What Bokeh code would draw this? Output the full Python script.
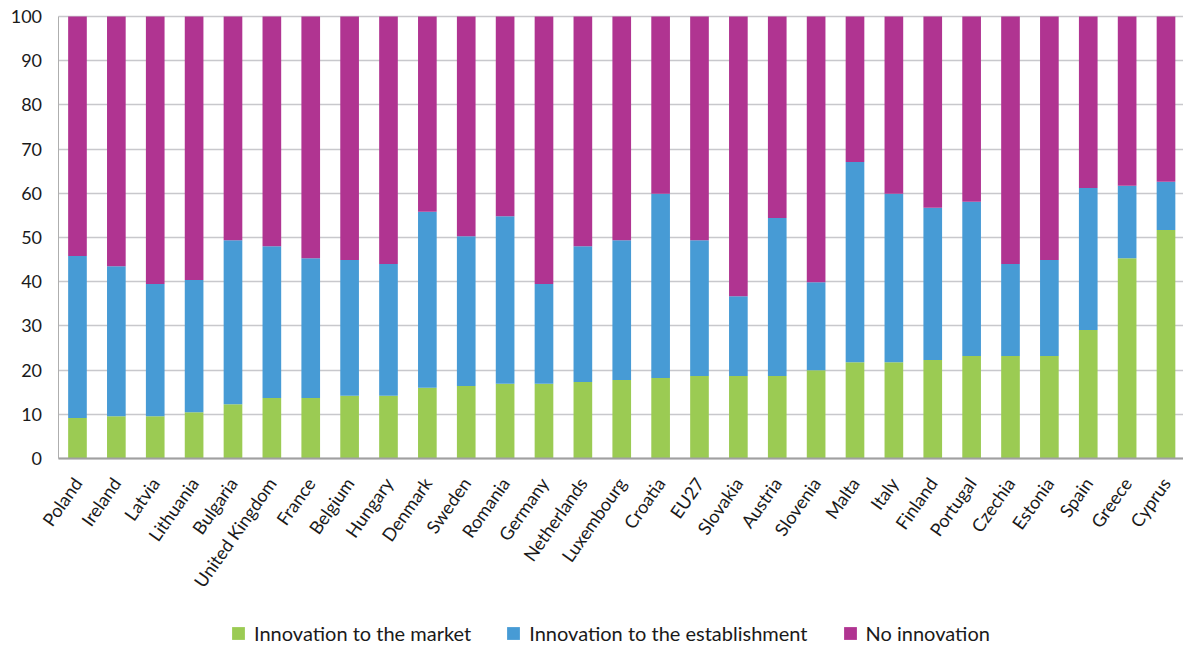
from math import radians
from bokeh.plotting import figure
from bokeh.models import Range1d, Legend, LegendItem, FixedTicker
from bokeh.embed import file_html
from bokeh.resources import INLINE

countries = ["Poland", "Ireland", "Latvia", "Lithuania", "Bulgaria", "United Kingdom",
             "France", "Belgium", "Hungary", "Denmark", "Sweden", "Romania", "Germany",
             "Netherlands", "Luxembourg", "Croatia", "EU27", "Slovakia", "Austria",
             "Slovenia", "Malta", "Italy", "Finland", "Portugal", "Czechia", "Estonia",
             "Spain", "Greece", "Cyprus"]
market = [9.2, 9.6, 9.6, 10.5, 12.3, 13.7, 13.7, 14.2, 14.2, 16.0, 16.4, 16.9, 16.9,
          17.3, 17.8, 18.2, 18.7, 18.7, 18.7, 20.0, 21.8, 21.8, 22.3, 23.2, 23.2, 23.2,
          29.1, 45.3, 51.7]
establishment = [36.6, 33.9, 29.9, 29.9, 37.1, 34.3, 31.6, 30.7, 29.8, 39.8, 33.9, 37.9,
                 22.6, 30.7, 31.6, 41.7, 30.7, 18.0, 35.7, 19.9, 45.3, 38.1, 34.4, 34.9,
                 20.8, 21.7, 32.1, 16.4, 10.9]
no_innovation = [54.2, 56.5, 60.5, 59.6, 50.6, 52.0, 54.7, 55.1, 56.0, 44.2, 49.7, 45.2,
                 60.5, 52.0, 50.6, 40.1, 50.6, 63.3, 45.6, 60.1, 32.9, 40.1, 43.3, 41.9,
                 56.0, 55.1, 38.8, 38.3, 37.4]
series_names = ["Innovation to the market", "Innovation to the establishment", "No innovation"]
colors = ["#9BCB53", "#479BD5", "#B03491"]
y_ticks = [0, 10, 20, 30, 40, 50, 60, 70, 80, 90, 100]

FONT = "Lato"
TXT = "#1A1A1A"

positions = list(range(len(countries)))
x_left, x_right = -0.5, len(countries) - 0.55

# frame covers the whole canvas; axes are pinned so that labels are not clipped
p = figure(width=1183, height=646, x_range=Range1d(-1.98, x_right),
           y_range=Range1d(-42.5, 103.6),
           output_backend="svg", toolbar_location=None,
           min_border_left=0, min_border_right=0, min_border_top=0, min_border_bottom=0)

source = dict(x=positions, market=market, establishment=establishment, none=no_innovation)
rs = p.vbar_stack(["market", "establishment", "none"], x="x", width=0.48,
                  color=colors, line_width=0, source=source)

p.outline_line_color = None
p.xgrid.grid_line_color = None
p.ygrid.grid_line_color = "#C8C8CC"
p.ygrid.grid_line_width = 1.5
p.yaxis.ticker = FixedTicker(ticks=y_ticks)
p.ygrid.ticker = FixedTicker(ticks=y_ticks)
if "cross_bounds" in p.ygrid[0].properties():
    p.ygrid[0].cross_bounds = (x_left, x_right)
p.yaxis.bounds = (0, 100)
p.yaxis.fixed_location = x_left
p.xaxis.fixed_location = 0
p.xaxis.bounds = (x_left, x_right)
p.xaxis.ticker = FixedTicker(ticks=positions)
p.xaxis.major_label_overrides = {i: c for i, c in zip(positions, countries)}

p.yaxis.axis_line_color = "#AEAEAE"
p.yaxis.axis_line_width = 1
p.xaxis.axis_line_color = "#A0A0A0"
p.xaxis.axis_line_width = 2
for ax in (p.xaxis, p.yaxis):
    ax.major_tick_line_color = None
    ax.minor_tick_line_color = None
    ax.major_label_text_font = FONT
    ax.major_label_text_font_size = "18px"
    ax.major_label_text_color = TXT
p.yaxis.major_label_standoff = 10
p.xaxis.major_label_standoff = 15
p.xaxis.major_label_orientation = radians(55)

legend = Legend(items=[LegendItem(label=n, renderers=[r]) for n, r in zip(series_names, rs)],
                orientation="horizontal", location=(230, 1),
                glyph_width=16, glyph_height=16, label_standoff=8, spacing=34,
                padding=0, margin=0, border_line_color=None, background_fill_alpha=0,
                label_text_font=FONT, label_text_font_size="20px", label_text_color=TXT)
p.add_layout(legend, "center")

open("out.html", "w").write(file_html(p, INLINE))
